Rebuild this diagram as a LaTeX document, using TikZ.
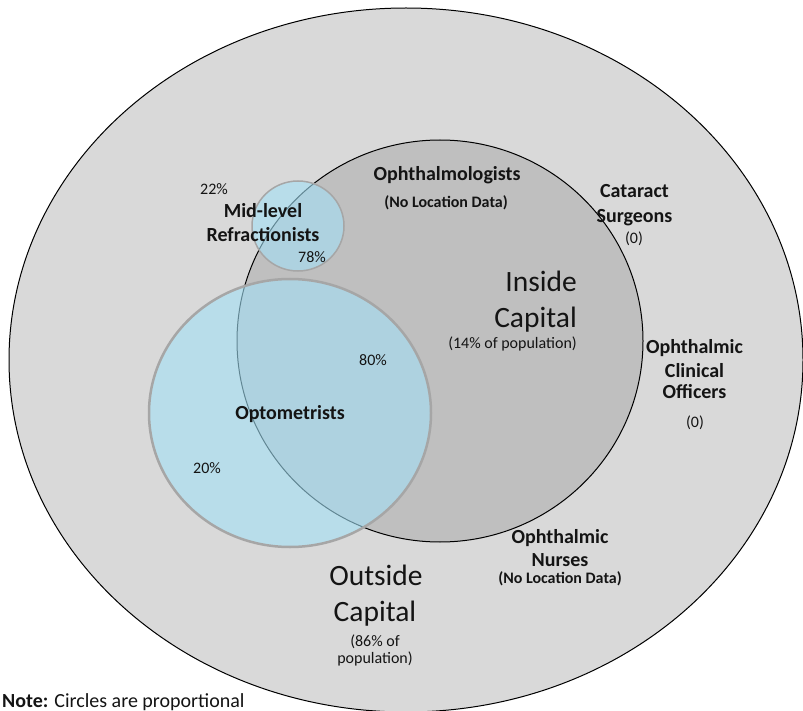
\documentclass[tikz,border=0pt]{standalone}
\usepackage{fontspec}
\setmainfont{Carlito}
\definecolor{outerfill}{HTML}{D9D9D9}
\definecolor{innerfill}{HTML}{BFBFBF}
\definecolor{bluefill}{RGB}{163,224,246}
\definecolor{blueedge}{HTML}{A6A6A6}
\definecolor{txt}{HTML}{141414}
\begin{document}
\begin{tikzpicture}[x=1pt,y=-1pt,
  lb/.style={font=\fontsize{20}{24}\selectfont\bfseries, anchor=base, inner sep=0pt, text=txt},
  sb/.style={font=\fontsize{16}{19}\selectfont\bfseries, anchor=base, inner sep=0pt, text=txt},
  pc/.style={font=\fontsize{16}{19}\selectfont, anchor=base, inner sep=0pt, text=txt},
  bg/.style={font=\fontsize{29.5}{35}\selectfont, anchor=base, inner sep=0pt, text=txt},
  region/.style={draw=black, line width=1pt},
  bluecirc/.style={fill=bluefill, fill opacity=0.6, draw=blueedge, draw opacity=1},
]
\useasboundingbox (0,0) rectangle (803,711);
\fill[white] (0,0) rectangle (803,711);
% outer and inner regions
\draw[region, fill=outerfill] (406,360) ellipse [x radius=397pt, y radius=352pt];
\draw[region, fill=innerfill] (440,341) ellipse [x radius=203pt, y radius=201pt];
% blue circles
\draw[bluecirc, line width=2.5pt] (290,413) ellipse [x radius=141pt, y radius=134pt];
\draw[bluecirc, line width=1.5pt] (298,226) ellipse [x radius=46pt, y radius=45pt];

% Mid-level refractionists
\node[pc] (p22) at (214,195) {22\%};
\node[lb] (mid1) at (263,218) {Mid-level};
\node[lb] (mid2) at (263,242) {Refractionists};
\node[pc] (p78) at (312,263) {78\%};

% Ophthalmologists
\node[lb] (oph1) at (447,181) {Ophthalmologists};
\node[sb] (oph2) at (446,208) {(No Location Data)};

% Cataract surgeons
\node[lb] (cat1) at (634.5,198) {Cataract};
\node[lb] (cat2) at (634.5,223) {Surgeons};
\node[pc] (cat3) at (634,244) {(0)};

% Inside capital
\node[bg, anchor=base east] (in1) at (577,292) {Inside};
\node[bg, anchor=base east] (in2) at (577,327) {Capital};
\node[pc, anchor=base east] (in3) at (577,348) {(14\% of population)};

% Ophthalmic clinical officers
\node[lb] (oco1) at (694.5,353) {Ophthalmic};
\node[lb] (oco2) at (694.5,377) {Clinical};
\node[lb] (oco3) at (694.5,398) {Officers};
\node[pc] (oco4) at (695,427) {(0)};

% Optometrists
\node[pc] (p80) at (373,365) {80\%};
\node[lb] (opt) at (290,419) {Optometrists};
\node[pc] (p20) at (207,473) {20\%};

% Ophthalmic nurses
\node[lb] (on1) at (560,543) {Ophthalmic};
\node[lb] (on2) at (560,566) {Nurses};
\node[sb] (on3) at (560,583) {(No Location Data)};

% Outside capital
\node[bg] (out1) at (376,585) {Outside};
\node[bg] (out2) at (375,621) {Capital};
\node[pc] (out3) at (375,646) {(86\% of};
\node[pc] (out4) at (375,663) {population)};

% Note
\node[font=\fontsize{20}{24}\selectfont, anchor=base west, inner sep=0pt, text=txt] (note) at (2,707) {\textbf{Note:} Circles are proportional};
\end{tikzpicture}
\end{document}
